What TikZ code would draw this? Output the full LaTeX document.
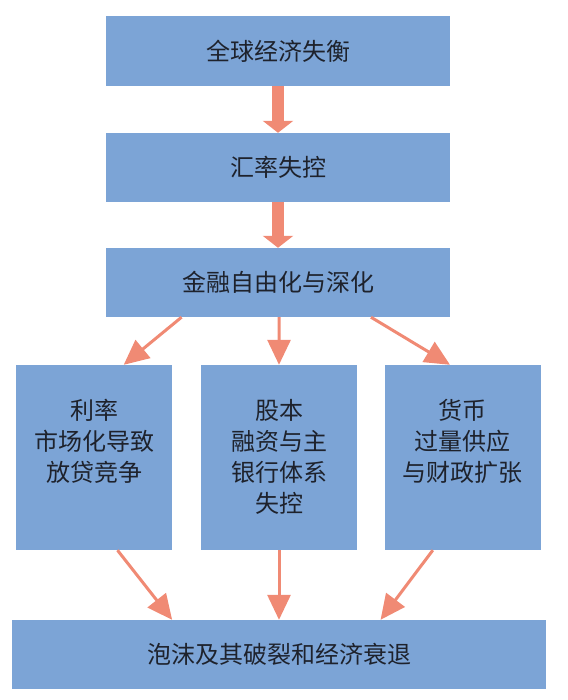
\documentclass[tikz,border=0pt]{standalone}
\usepackage{fontspec}
\setmainfont{Noto Sans CJK SC}
\usetikzlibrary{calc, positioning}
\usetikzlibrary{arrows.meta}
\definecolor{boxblue}{RGB}{124,164,214}
\definecolor{arrowred}{RGB}{240,138,116}
\definecolor{textdark}{RGB}{30,34,44}
\newcommand{\colbox}[1]{\parbox[t][185pt][t]{156pt}{\centering\rule{0pt}{54pt}#1}}

\begin{document}
\begin{tikzpicture}[x=1pt,y=-1pt,
  box/.style={fill=boxblue,text=textdark,inner sep=0pt,
    font=\fontsize{24}{31}\selectfont,align=center},
  bigarrow/.style={arrowred,line width=12pt,-{Triangle[width=30pt,length=12pt]}},
  thinarrow/.style={arrowred,line width=3pt,-{Triangle[width=23pt,length=25pt]}}]
\useasboundingbox (0,0) rectangle (567,700);
\node[box,minimum width=344pt,minimum height=70pt] (glob) at (278,51) {全球经济失衡};
\node[box,minimum width=344pt,minimum height=69pt] (fx) at (278,167.5) {汇率失控};
\node[box,minimum width=344pt,minimum height=69pt] (fin) at (278,282.5) {金融自由化与深化};
\node[box] (rate) at (94,457.5) {\colbox{利率\\市场化导致\\放贷竞争}};
\node[box] (equity) at (279,457.5) {\colbox{股本\\融资与主\\银行体系\\失控}};
\node[box] (money) at (462.5,457.5) {\colbox{货币\\过量供应\\与财政扩张}};
\node[box,minimum width=534pt,minimum height=69pt] (bubble) at (279,654.5) {泡沫及其破裂和经济衰退};
\draw[bigarrow] (glob) -- (fx);
\draw[bigarrow] (fx) -- (fin);
\foreach \src/\a/\dst/\b in {fin/0.22/rate/0.69, fin/0.503/equity/0.5, fin/0.77/money/0.42,
    rate/0.65/bubble/0.30, equity/0.5/bubble/0.5, money/0.31/bubble/0.69}{
  \draw[thinarrow] ($(\src.south west)!\a!(\src.south east)$) -- ($(\dst.north west)!\b!(\dst.north east)$);
}
\end{tikzpicture}
\end{document}
